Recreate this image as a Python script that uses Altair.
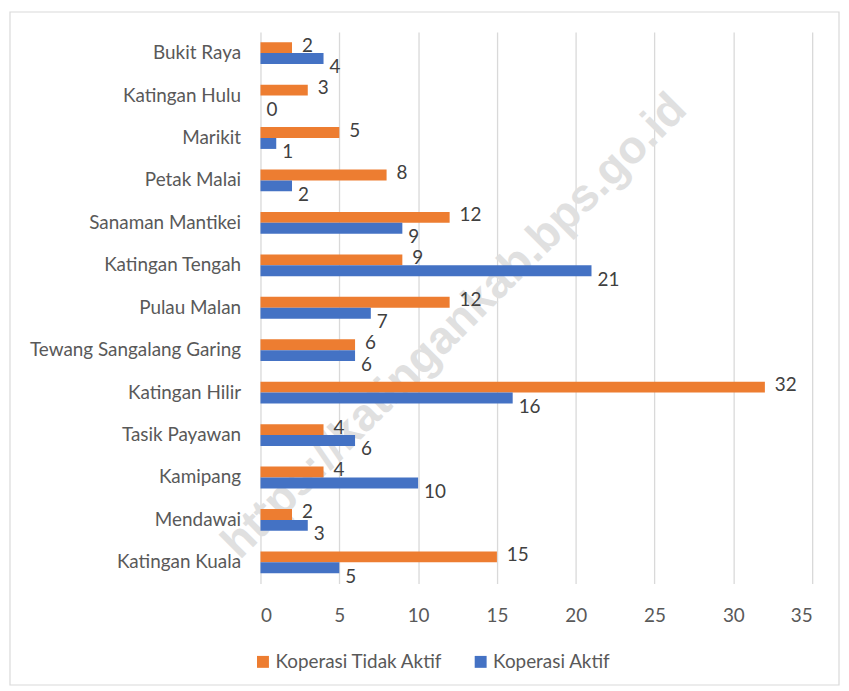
import altair as alt
import pandas as pd

categories = ["Bukit Raya", "Katingan Hulu", "Marikit", "Petak Malai", "Sanaman Mantikei",
              "Katingan Tengah", "Pulau Malan", "Tewang Sangalang Garing", "Katingan Hilir",
              "Tasik Payawan", "Kamipang", "Mendawai", "Katingan Kuala"]
tidak_aktif = [2, 3, 5, 8, 12, 9, 12, 6, 32, 4, 4, 2, 15]
aktif = [4, 0, 1, 2, 9, 21, 7, 6, 16, 6, 10, 3, 5]
series_names = ["Koperasi Tidak Aktif", "Koperasi Aktif"]
series_colors = ["#ED7D31", "#4472C4"]
x_ticks = [0, 5, 10, 15, 20, 25, 30, 35]
watermark = "https://katingankab.bps.go.id"

rows = []
for c, a, b in zip(categories, tidak_aktif, aktif):
    rows.append({"kec": c, "seri": series_names[0], "nilai": a})
    rows.append({"kec": c, "seri": series_names[1], "nilai": b})
df = pd.DataFrame(rows)

FONT = "Lato"
FS = 19
GREY = "#595959"

y_enc = alt.Y("kec:N", sort=categories, title=None,
              scale=alt.Scale(paddingInner=0.485, paddingOuter=0.2425),
              axis=alt.Axis(domain=False, ticks=False, labelFontSize=FS, labelColor=GREY,
                            labelFont=FONT, labelPadding=20, grid=False, labelLimit=300))
x_enc = alt.X("nilai:Q", title=None,
              scale=alt.Scale(domain=[0, 35], nice=False),
              axis=alt.Axis(values=x_ticks, domain=False, ticks=False, labelFontSize=FS,
                            labelColor=GREY, labelFont=FONT, labelPadding=23,
                            grid=True, gridColor="#d9d9d9", gridWidth=1.3))
yoff = alt.YOffset("seri:N", sort=series_names,
                   scale=alt.Scale(domain=series_names, paddingInner=0, paddingOuter=0))

base = alt.Chart(df)

border = alt.Chart(pd.DataFrame({"k": [0]})).mark_rect(
    fill="transparent", stroke="#d9d9d9", strokeWidth=1.2
).encode(x=alt.value(-252), x2=alt.value(582), y=alt.value(-20), y2=alt.value(657))

wm = alt.Chart(pd.DataFrame({"t": [watermark]})).mark_text(
    fontSize=46, fontWeight="bold", font="Liberation Sans", angle=315,
    color="#e0e0e0", align="center", baseline="middle"
).encode(text="t:N", x=alt.value(195), y=alt.value(296))

bars = base.mark_bar(height=alt.RelativeBandSize(1)).encode(
    y=y_enc, x=x_enc, yOffset=yoff,
    color=alt.Color("seri:N", sort=series_names,
                    scale=alt.Scale(domain=series_names, range=series_colors),
                    legend=alt.Legend(title=None, orient="none", legendX=-7, legendY=624,
                                      direction="horizontal", symbolType="square",
                                      symbolSize=144, symbolStrokeWidth=0, labelLimit=300,
                                      labelFontSize=FS, labelColor=GREY, labelFont=FONT,
                                      columnPadding=28, labelOffset=3))
)

lab_top = base.transform_filter(alt.datum.seri == series_names[0]).mark_text(
    align="left", baseline="middle", dx=10, dy=-2, fontSize=FS, font=FONT, color="#404040"
).encode(y=alt.Y("kec:N", sort=categories), x="nilai:Q", yOffset=yoff, text="nilai:Q")

lab_bot = base.transform_filter(alt.datum.seri == series_names[1]).mark_text(
    align="left", baseline="middle", dx=6, dy=9, fontSize=FS, font=FONT, color="#404040"
).encode(y=alt.Y("kec:N", sort=categories), x="nilai:Q", yOffset=yoff, text="nilai:Q")

chart = alt.layer(wm, bars, border, lab_top, lab_bot).properties(
    width=555, height=555,
    autosize=alt.AutoSizeParams(type="none"),
    padding={"left": 254, "top": 22, "right": 29, "bottom": 105},
    background="white"
).configure_view(stroke=None)

chart.save("out.html", embed_options={"renderer": "svg", "actions": False})
